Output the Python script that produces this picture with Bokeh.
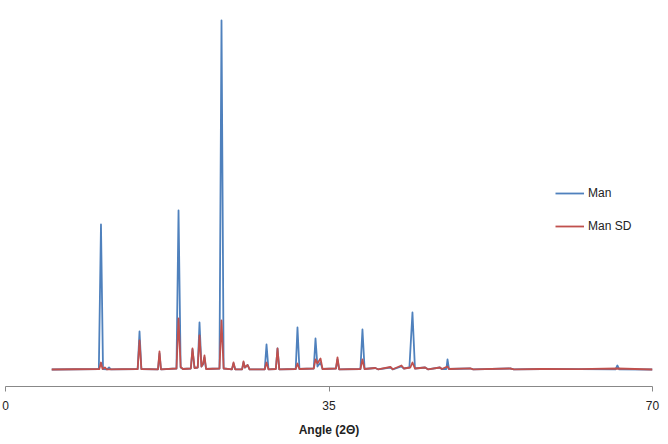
from bokeh.plotting import figure
from bokeh.models import Range1d, FixedTicker, Legend, LegendItem
from bokeh.embed import file_html
from bokeh.resources import INLINE

# Diffraction pattern, angle (2θ) vs intensity (arbitrary units)
man_angle = [5.0, 10.1, 10.33, 10.55, 11.0, 11.2, 11.4, 14.3, 14.5, 14.7, 16.5, 16.66, 16.82,
             18.5, 18.72, 18.95, 19.2, 20.05, 20.23, 20.45, 20.8, 20.99, 21.2, 21.38, 21.53, 21.7,
             23.15, 23.37, 23.6, 24.5, 24.67, 24.85, 25.6, 25.75, 25.9, 26.2, 26.4,
             28.05, 28.24, 28.45, 29.25, 29.43, 29.62, 31.4, 31.59, 31.8,
             33.35, 33.54, 33.75, 34.08, 34.3, 35.75, 35.92, 36.1, 38.4, 38.62, 38.85,
             40.0, 40.3, 41.65, 41.9, 42.84, 43.1, 43.7, 44.03, 44.3, 45.4, 45.7,
             47.0, 47.2, 47.7, 47.82, 47.98, 50.3, 50.6, 54.6, 55.0, 58.0, 62.0,
             66.0, 66.2, 66.4, 70.0]
man_int = [170, 175, 1620, 175, 172, 190, 172, 175, 550, 175, 172, 330, 172,
           180, 1760, 190, 175, 180, 370, 185, 190, 640, 200, 220, 290, 175,
           180, 3660, 180, 172, 230, 172, 172, 240, 190, 215, 172,
           172, 420, 172, 175, 380, 172, 175, 590, 175,
           180, 480, 200, 240, 175, 180, 270, 172, 175, 570, 175,
           185, 172, 190, 172, 200, 180, 190, 740, 180, 190, 172,
           190, 175, 175, 270, 175, 180, 172, 180, 172, 175, 174,
           172, 210, 172, 170]

sd_angle = [5.0, 10.15, 10.33, 10.5, 10.75, 10.95, 14.3, 14.5, 14.7, 16.5, 16.66, 16.82,
            18.5, 18.72, 18.95, 19.2, 20.05, 20.23, 20.45, 20.8, 20.99, 21.2, 21.38, 21.53, 21.7,
            23.15, 23.37, 23.6, 24.5, 24.67, 24.85, 25.6, 25.75, 25.9, 26.2, 26.4,
            28.05, 28.24, 28.45, 29.25, 29.43, 29.62, 31.4, 31.59, 31.8,
            33.35, 33.54, 33.75, 34.08, 34.3, 35.75, 35.92, 36.1, 38.4, 38.62, 38.85,
            40.0, 40.3, 41.65, 41.9, 42.84, 43.1, 43.8, 44.03, 44.3, 45.4, 45.7,
            47.0, 47.2, 47.82, 47.98, 50.3, 50.6, 54.6, 55.0, 58.0, 62.0, 66.2, 70.0]
sd_int = [170, 175, 240, 175, 190, 172, 175, 460, 175, 172, 350, 172,
          180, 680, 195, 175, 180, 380, 185, 190, 510, 200, 230, 310, 175,
          180, 660, 180, 172, 240, 172, 172, 250, 190, 215, 172,
          172, 240, 172, 175, 380, 172, 175, 230, 175,
          180, 270, 230, 280, 175, 180, 290, 172, 175, 270, 175,
          185, 172, 195, 172, 210, 180, 190, 240, 180, 190, 172,
          190, 175, 200, 175, 182, 172, 180, 172, 175, 174, 180, 170]

x_ticks = [0, 35, 70]

p = figure(width=668, height=444, output_backend="svg", toolbar_location=None,
           x_range=Range1d(0, 70), y_range=Range1d(0, 3760),
           min_border_left=5, min_border_right=16, min_border_top=10, min_border_bottom=58)
p.outline_line_color = None
p.background_fill_color = "white"
p.border_fill_color = "white"
p.xgrid.visible = False
p.ygrid.visible = False
p.yaxis.visible = False

r1 = p.line(man_angle, man_int, line_color="#4F81BD", line_width=1.8, line_join="round")
r2 = p.line(sd_angle, sd_int, line_color="#C0504D", line_width=1.8, line_join="round")

ax = p.xaxis[0]
ax.ticker = FixedTicker(ticks=x_ticks)
ax.minor_tick_line_color = None
ax.axis_line_color = "#888888"
ax.major_tick_line_color = "#888888"
ax.major_tick_out = 5
ax.major_tick_in = 0
ax.major_label_text_font = "Liberation Sans"
ax.major_label_text_font_size = "12px"
ax.major_label_text_color = "#222222"
ax.major_label_standoff = 9
ax.axis_label = "Angle (2Θ)"
ax.axis_label_text_font = "Liberation Sans"
ax.axis_label_text_font_size = "12px"
ax.axis_label_text_font_style = "bold"
ax.axis_label_text_color = "#222222"
ax.axis_label_standoff = 10

legend = Legend(items=[LegendItem(label="Man", renderers=[r1]),
                       LegendItem(label="Man SD", renderers=[r2])],
                location=(550, 150), orientation="vertical")
legend.border_line_color = None
legend.background_fill_alpha = 0
legend.padding = 0
legend.margin = 0
legend.glyph_width = 29
legend.glyph_height = 20
legend.label_height = 20
legend.spacing = 13
legend.label_standoff = 4
legend.label_text_font = "Liberation Sans"
legend.label_text_font_size = "12px"
legend.label_text_color = "#222222"
p.add_layout(legend, "center")

open("out.html", "w").write(file_html(p, INLINE))
